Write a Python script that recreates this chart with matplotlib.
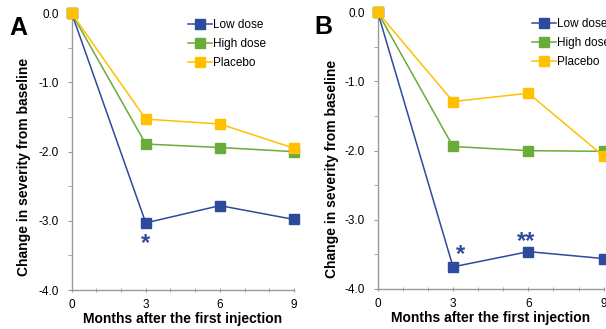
import matplotlib
matplotlib.use('Agg')
import matplotlib.pyplot as plt

plt.rcParams['font.family'] = ['Liberation Sans', 'DejaVu Sans']

months = [0, 3, 6, 9]
series_names = ['Low dose', 'High dose', 'Placebo']
colors = ['#2E4A9C', '#6AAB3A', '#FFC000']

# panel A values
a_low = [0.0, -3.03, -2.78, -2.98]
a_high = [0.0, -1.89, -1.94, -2.0]
a_placebo = [0.0, -1.53, -1.60, -1.95]

# panel B values
b_low = [0.0, -3.68, -3.46, -3.56]
b_high = [0.0, -1.94, -2.0, -2.01]
b_placebo = [0.0, -1.29, -1.17, -2.08]

yticks = [0.0, -1.0, -2.0, -3.0, -4.0]
ytick_labels = ['0.0', '-1.0', '-2.0', '-3.0', '-4.0']

a_stars = [(3, '*')]
b_stars = [(3.3, '*'), (5.9, '**')]


def draw_panel(ax, data, stars, star_y, letter, leg_x, ylab_xy):
    for vals, name, c in zip(data, series_names, colors):
        ax.plot(months, vals, color=c, lw=1.1, marker='s', ms=6.7,
                mec=c, mfc=c, label=name, clip_on=False, zorder=3)
    ax.set_xlim(0, 9)
    ax.set_ylim(-4, 0)
    ax.set_xticks(months)
    ax.set_xticks(range(10), minor=True)
    ax.set_yticks(yticks)
    ax.set_yticklabels(ytick_labels)
    ax.set_yticks([-0.5, -1.5, -2.5, -3.5], minor=True)
    for s in ['top', 'right']:
        ax.spines[s].set_visible(False)
    for s in ['left', 'bottom']:
        ax.spines[s].set_color('#9a9a9a')
        ax.spines[s].set_linewidth(1.0)
    ax.tick_params(axis='y', which='both', direction='out', length=3,
                   color='#9a9a9a', labelsize=8.5, pad=6)
    ax.tick_params(axis='x', which='both', direction='inout', length=3,
                   color='#9a9a9a', labelsize=8.5, pad=5)
    ax.set_xlabel('Months after the first injection', fontsize=10,
                  fontweight='bold', labelpad=1)
    ax.set_ylabel('Change in severity from baseline', fontsize=10,
                  fontweight='bold')
    ax.yaxis.set_label_coords(*ylab_xy)
    for (sx, st), sy in zip(stars, star_y):
        ax.text(sx, sy, st, color=colors[0], fontsize=17, fontweight='bold',
                ha='center', va='center')
    ax.text(-0.28, 0.99, letter, transform=ax.transAxes, fontsize=18,
            fontweight='bold', ha='left', va='top')
    ax.legend(loc='upper left', bbox_to_anchor=(leg_x, 0.979), frameon=False,
              fontsize=8.5, handlelength=2.0, handletextpad=0.15,
              labelspacing=0.6, borderpad=0, borderaxespad=0)


fig = plt.figure(figsize=(6.06, 3.29), dpi=100)
ax1 = fig.add_axes([0.1183, 0.1185, 0.3668, 0.8411])
ax2 = fig.add_axes([0.6233, 0.1216, 0.3729, 0.8410])

draw_panel(ax1, [a_low, a_high, a_placebo], a_stars, [-3.33], 'A', 0.523,
           (-0.183, 0.444))
draw_panel(ax2, [b_low, b_high, b_placebo], b_stars, [-3.5, -3.31], 'B', 0.683,
           (-0.172, 0.435))

fig.savefig('out.png', dpi=100)
